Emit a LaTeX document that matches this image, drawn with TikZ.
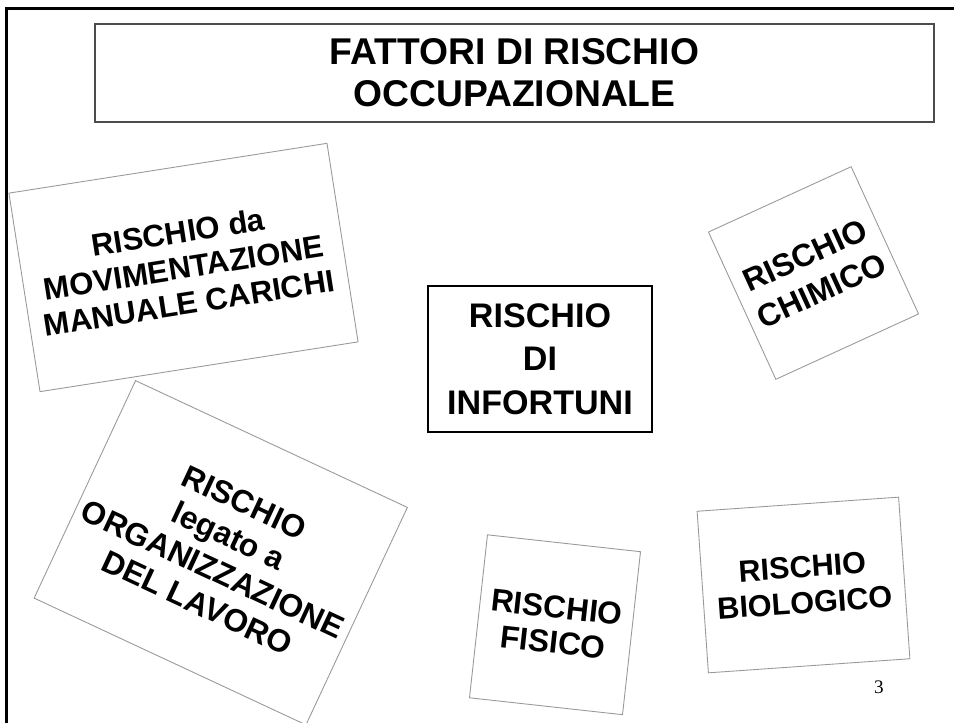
\documentclass[tikz,border=0pt]{standalone}
\usepackage{fontspec}
\setmainfont{Liberation Sans}
\newfontfamily\pagefont{Liberation Serif}

\tikzset{
  riskbox/.style={draw=black!40, line width=0.5pt, fill=white, align=center, inner sep=0pt},
  titlebox/.style={draw=black!70, line width=1.1pt, align=center, inner sep=0pt,
    minimum width=16.78cm, minimum height=1.96cm,
    font=\fontsize{21.2}{23.8}\selectfont\bfseries},
  centerbox/.style={draw=black, line width=0.9pt, align=center, inner sep=0pt,
    minimum width=4.48cm, minimum height=2.92cm,
    font=\fontsize{19.4}{24.7}\selectfont\bfseries}
}

\begin{document}
\begin{tikzpicture}[x=0.02cm, y=-0.02cm]

  % Fix the page size
  \useasboundingbox (0,0) rectangle (954,723);
  \clip (0,0) rectangle (954,723);

  % Frame of the slide (left and top)
  \coordinate (FB) at (6.5,723);
  \coordinate (FC) at (6.5,8.5);
  \coordinate (FR) at (954,8.5);
  \draw[line width=1.2pt] (FB) -- (FC) -- (FR);

  % Title
  \node[titlebox] (title) at (514.5,73) {FATTORI DI RISCHIO\\OCCUPAZIONALE};

  % Central box
  \node[centerbox] (infortuni) at (540,359) {RISCHIO\\DI\\INFORTUNI};

  % Tilted boxes around it
  \node[riskbox, rotate=-25, minimum width=6cm, minimum height=4.8cm,
    font=\fontsize{18.1}{21}\selectfont\bfseries] (organizz) at (220.75,552.75)
    {RISCHIO\\legato a\\ORGANIZZAZIONE\\DEL LAVORO};
  \node[riskbox, rotate=8.9, minimum width=6.44cm, minimum height=4.02cm,
    font=\fontsize{17.7}{20.4}\selectfont\bfseries] (carichi) at (183.5,267.5)
    {RISCHIO da\\MOVIMENTAZIONE\\MANUALE CARICHI};
  \node[riskbox, rotate=24.6, minimum width=3.14cm, minimum height=3.24cm,
    font=\fontsize{18.1}{22}\selectfont\bfseries] (chimico) at (813.5,273)
    {RISCHIO\\CHIMICO};
  \node[riskbox, rotate=-6.3, minimum width=3.08cm, minimum height=3.28cm,
    font=\fontsize{18}{20}\selectfont\bfseries] (fisico) at (555,624.75)
    {RISCHIO\\FISICO};
  \node[riskbox, rotate=4, minimum width=4.04cm, minimum height=3.24cm,
    font=\fontsize{17.4}{20.4}\selectfont\bfseries] (biologico) at (803.5,585)
    {RISCHIO\\BIOLOGICO};

  % Page number
  \node[font=\pagefont\fontsize{10.9}{13}\selectfont] (pagenum) at (879,687) {3};

\end{tikzpicture}
\end{document}
